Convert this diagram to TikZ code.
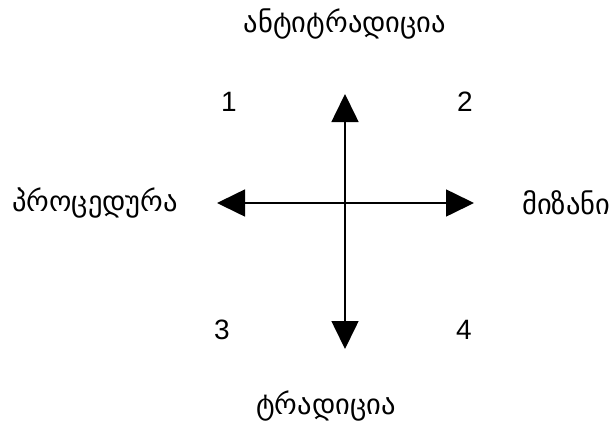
\documentclass[tikz,border=0pt]{standalone}
\usepackage{fontspec}
\setmainfont{Liberation Sans}
\newfontfamily\geo{DejaVu Sans}
\usetikzlibrary{arrows.meta}
\begin{document}
\begin{tikzpicture}[x=1pt,y=-1pt,
  axis/.style={line width=1.6pt,-{Triangle[width=27pt,length=28pt]}},
  geolabel/.style={font=\geo\fontsize{28.5}{32}\selectfont,inner sep=0pt},
  num/.style={font=\fontsize{28}{32}\selectfont,inner sep=0pt}]
\useasboundingbox (0,0) rectangle (611,421);
\coordinate (c) at (345,203);
\coordinate (t) at (345,94);
\coordinate (b) at (345,349);
\coordinate (l) at (217,203);
\coordinate (r) at (474,203);
\draw[axis] (c) -- (t);
\draw[axis] (c) -- (b);
\draw[axis] (c) -- (l);
\draw[axis] (c) -- (r);
\node[geolabel] (top) at (345,24) {ანტიტრადიცია};
\node[geolabel] (bot) at (326,406) {ტრადიცია};
\node[geolabel,anchor=west] (left) at (12,203) {პროცედურა};
\node[geolabel,anchor=west] (right) at (522,203) {მიზანი};
\node[num] (n1) at (229,102) {1};
\node[num] (n2) at (465,102) {2};
\node[num] (n3) at (222,330) {3};
\node[num] (n4) at (464,330) {4};
\end{tikzpicture}
\end{document}
